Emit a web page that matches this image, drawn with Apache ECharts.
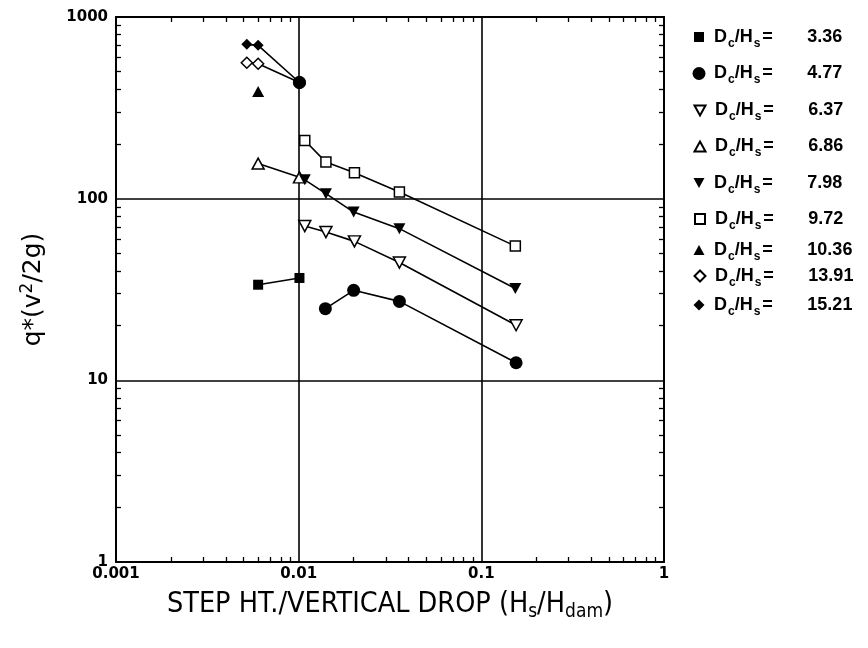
<!DOCTYPE html>
<html><head><meta charset="utf-8">
<script src="https://cdn.jsdelivr.net/npm/echarts@6/dist/echarts.min.js"></script>
<style>html,body{margin:0;padding:0;background:#fff}#c{width:868px;height:648px}</style>
</head><body><div id="c"></div>
<script>
// ---- data ----
const seriesNames = ['3.36','4.77','6.37','6.86','7.98','9.72','10.36','13.91','15.21'];
const x_336 = [0.006, 0.0101];            const y_336 = [33.6, 36.6];
const x_477 = [0.014, 0.02, 0.0356, 0.155]; const y_477 = [24.8, 31.3, 27.2, 12.5];
const x_637 = [0.0108, 0.0141, 0.0202, 0.0356, 0.155]; const y_637 = [70.7, 65.5, 58.2, 44.5, 20.1];
const x_686 = [0.006, 0.0101];            const y_686 = [156, 131];
const x_798 = [0.0108, 0.0141, 0.02, 0.0356, 0.1535]; const y_798 = [127, 106.5, 84.4, 68.4, 32.0];
const x_972 = [0.0108, 0.0141, 0.0202, 0.0356, 0.1535]; const y_972 = [209, 159, 139, 108.7, 54.8];
const x_1036 = [0.006];                   const y_1036 = [389];
const x_1391 = [0.0052, 0.006, 0.0101];   const y_1391 = [560, 553, 436];
const x_1521 = [0.0052, 0.006, 0.0101];   const y_1521 = [707, 698, 436];
const xTickLabels = ['0.001','0.01','0.1','1'];
const yTickLabels = ['1','10','100','1000'];
const xMajor = [0.01, 0.1];
const yMajor = [10, 100];
const xMinor = [0.002,0.003,0.004,0.005,0.006,0.007,0.008,0.009,0.02,0.03,0.04,0.05,0.06,0.07,0.08,0.09,0.2,0.3,0.4,0.5,0.6,0.7,0.8,0.9];
const yMinor = [2,3,4,5,6,7,8,9,20,30,40,50,60,70,80,90,200,300,400,500,600,700,800,900];
const legendCenters = [34, 70.5, 107.5, 143.5, 180, 216, 247, 273, 302];

// ---- styling ----
const K = '#000';
const downTri = 'path://M0,0 L10,0 L5,9 Z';
const upTri = 'path://M5,0 L10,9 L0,9 Z';
const pts = (xs, ys) => xs.map((x, i) => [x, ys[i]]);
const solid = {color: K};
const hollow = {color: '#fff', borderColor: K, borderWidth: 1.5};
const endCircle = v => ({value: v, symbol: 'circle', symbolSize: 13, itemStyle: {color: K, borderWidth: 0}});

const defs = [
  {name: seriesNames[0], data: pts(x_336, y_336), symbol: 'rect', size: 10, style: solid, lsize: [10, 10]},
  {name: seriesNames[1], data: pts(x_477, y_477), symbol: 'circle', size: 13, style: solid, lsize: [13, 13]},
  {name: seriesNames[2], data: pts(x_637, y_637), symbol: downTri, size: [12, 11], style: hollow, lsize: [11, 10]},
  {name: seriesNames[3], data: pts(x_686, y_686), symbol: upTri, size: [12, 11], style: hollow, lsize: [11, 10]},
  {name: seriesNames[4], data: pts(x_798, y_798), symbol: downTri, size: [12, 11], style: solid, lsize: [11, 10]},
  {name: seriesNames[5], data: pts(x_972, y_972), symbol: 'rect', size: 10, style: hollow, lsize: [10, 10]},
  {name: seriesNames[6], data: pts(x_1036, y_1036), symbol: upTri, size: [12, 11], style: solid, lsize: [11, 10]},
  {name: seriesNames[7], data: pts(x_1391, y_1391), symbol: 'diamond', size: 11, style: hollow, endC: true, lsize: [11, 11]},
  {name: seriesNames[8], data: pts(x_1521, y_1521), symbol: 'diamond', size: 11, style: solid, endC: true, lsize: [11, 11]}
];

const series = defs.map((d, i) => {
  const data = d.data.map((p, j) => (d.endC && j === d.data.length - 1) ? endCircle(p) : p);
  const s = {
    type: 'line', name: d.name, data: data,
    symbol: d.symbol, symbolSize: d.size, showSymbol: true,
    lineStyle: {color: K, width: 1.6},
    itemStyle: d.style, z: 3 + i, animation: false, silent: true
  };
  if (i === 0) {
    s.markLine = {
      silent: true, symbol: 'none', label: {show: false}, animation: false,
      lineStyle: {color: K, width: 1.6, type: 'solid'},
      data: xMajor.map(v => ({xAxis: v})).concat(yMajor.map(v => ({yAxis: v})))
    };
  }
  return s;
});

const LF = 'Liberation Sans';
const legends = defs.map((d, i) => ({
  data: [{name: d.name, icon: d.symbol}], left: 694 - d.lsize[0] / 2, top: legendCenters[i] - 11, orient: 'vertical',
  itemWidth: d.lsize[0], itemHeight: d.lsize[1], itemGap: 0, selectedMode: false,
  formatter: n => '{t|D}{b|c}{t|/H}{s|s}{e|=}{t|' + n + '}',
  textStyle: {
    fontFamily: LF, fontWeight: 'bold', fontSize: 18, color: K,
    padding: [0, 0, 0, 10 - d.lsize[0] / 2],
    rich: {
      t: {fontFamily: LF, fontWeight: 'bold', fontSize: 18, color: K},
      b: {fontFamily: LF, fontWeight: 'bold', fontSize: 12, color: K, padding: [13, 0, 0, 1]},
      s: {fontFamily: LF, fontWeight: 'bold', fontSize: 12, color: K, padding: [13, 2, 0, 1]},
      e: {fontFamily: LF, fontWeight: 'bold', fontSize: 18, color: K, width: 45, align: 'left'}
    }
  }
}));

const lblFont = {fontFamily: 'DejaVu Sans', fontWeight: 'bold', fontSize: 15, color: K};

const option = {
  backgroundColor: '#fff',
  animation: false,
  grid: {left: 116, right: 204, top: 17, bottom: 86, show: false},
  legend: legends,
  xAxis: [
    {type: 'log', logBase: 10, min: 0.001, max: 1, position: 'bottom',
     axisLine: {show: true, lineStyle: {color: K, width: 2}},
     axisTick: {show: true, inside: true, length: 5, customValues: xMinor, lineStyle: {color: K, width: 1.3}},
     axisLabel: Object.assign({margin: 5, formatter: v => xTickLabels[Math.round(Math.log10(v)) + 3]}, lblFont),
     splitLine: {show: false},
     name: 'STEP HT./VERTICAL DROP (H{s|s}/H{s|dam})', nameLocation: 'middle', nameGap: 25,
     nameTextStyle: {fontFamily: 'DejaVu Sans Condensed', fontSize: 28.5, color: K,
       rich: {s: {fontFamily: 'DejaVu Sans Condensed', fontSize: 19, color: K, padding: [16, 0, 0, 0]}}}
    },
    {type: 'log', logBase: 10, min: 0.001, max: 1, position: 'top',
     axisLine: {show: true, lineStyle: {color: K, width: 2}},
     axisTick: {show: true, inside: true, length: 5, customValues: xMinor, lineStyle: {color: K, width: 1.3}},
     axisLabel: {show: false}, splitLine: {show: false}}
  ],
  yAxis: [
    {type: 'log', logBase: 10, min: 1, max: 1000, position: 'left',
     axisLine: {show: true, lineStyle: {color: K, width: 2}},
     axisTick: {show: true, inside: true, length: 5, customValues: yMinor, lineStyle: {color: K, width: 1.3}},
     axisLabel: Object.assign({margin: 8, formatter: v => yTickLabels[Math.round(Math.log10(v))]}, lblFont),
     splitLine: {show: false},
     name: 'q*(v{p|2}/2g)', nameLocation: 'middle', nameGap: 68, nameRotate: 90,
     nameTextStyle: {fontFamily: 'DejaVu Sans', fontSize: 25, color: K,
       rich: {p: {fontFamily: 'DejaVu Sans', fontSize: 17, color: K, padding: [0, 0, 12, 0]}}}
    },
    {type: 'log', logBase: 10, min: 1, max: 1000, position: 'right',
     axisLine: {show: true, lineStyle: {color: K, width: 2}},
     axisTick: {show: true, inside: true, length: 5, customValues: yMinor, lineStyle: {color: K, width: 1.3}},
     axisLabel: {show: false}, splitLine: {show: false}}
  ],
  series: series
};

const chart = echarts.init(document.getElementById('c'), null, {renderer: 'canvas'});
chart.setOption(option);
</script>
</body></html>
